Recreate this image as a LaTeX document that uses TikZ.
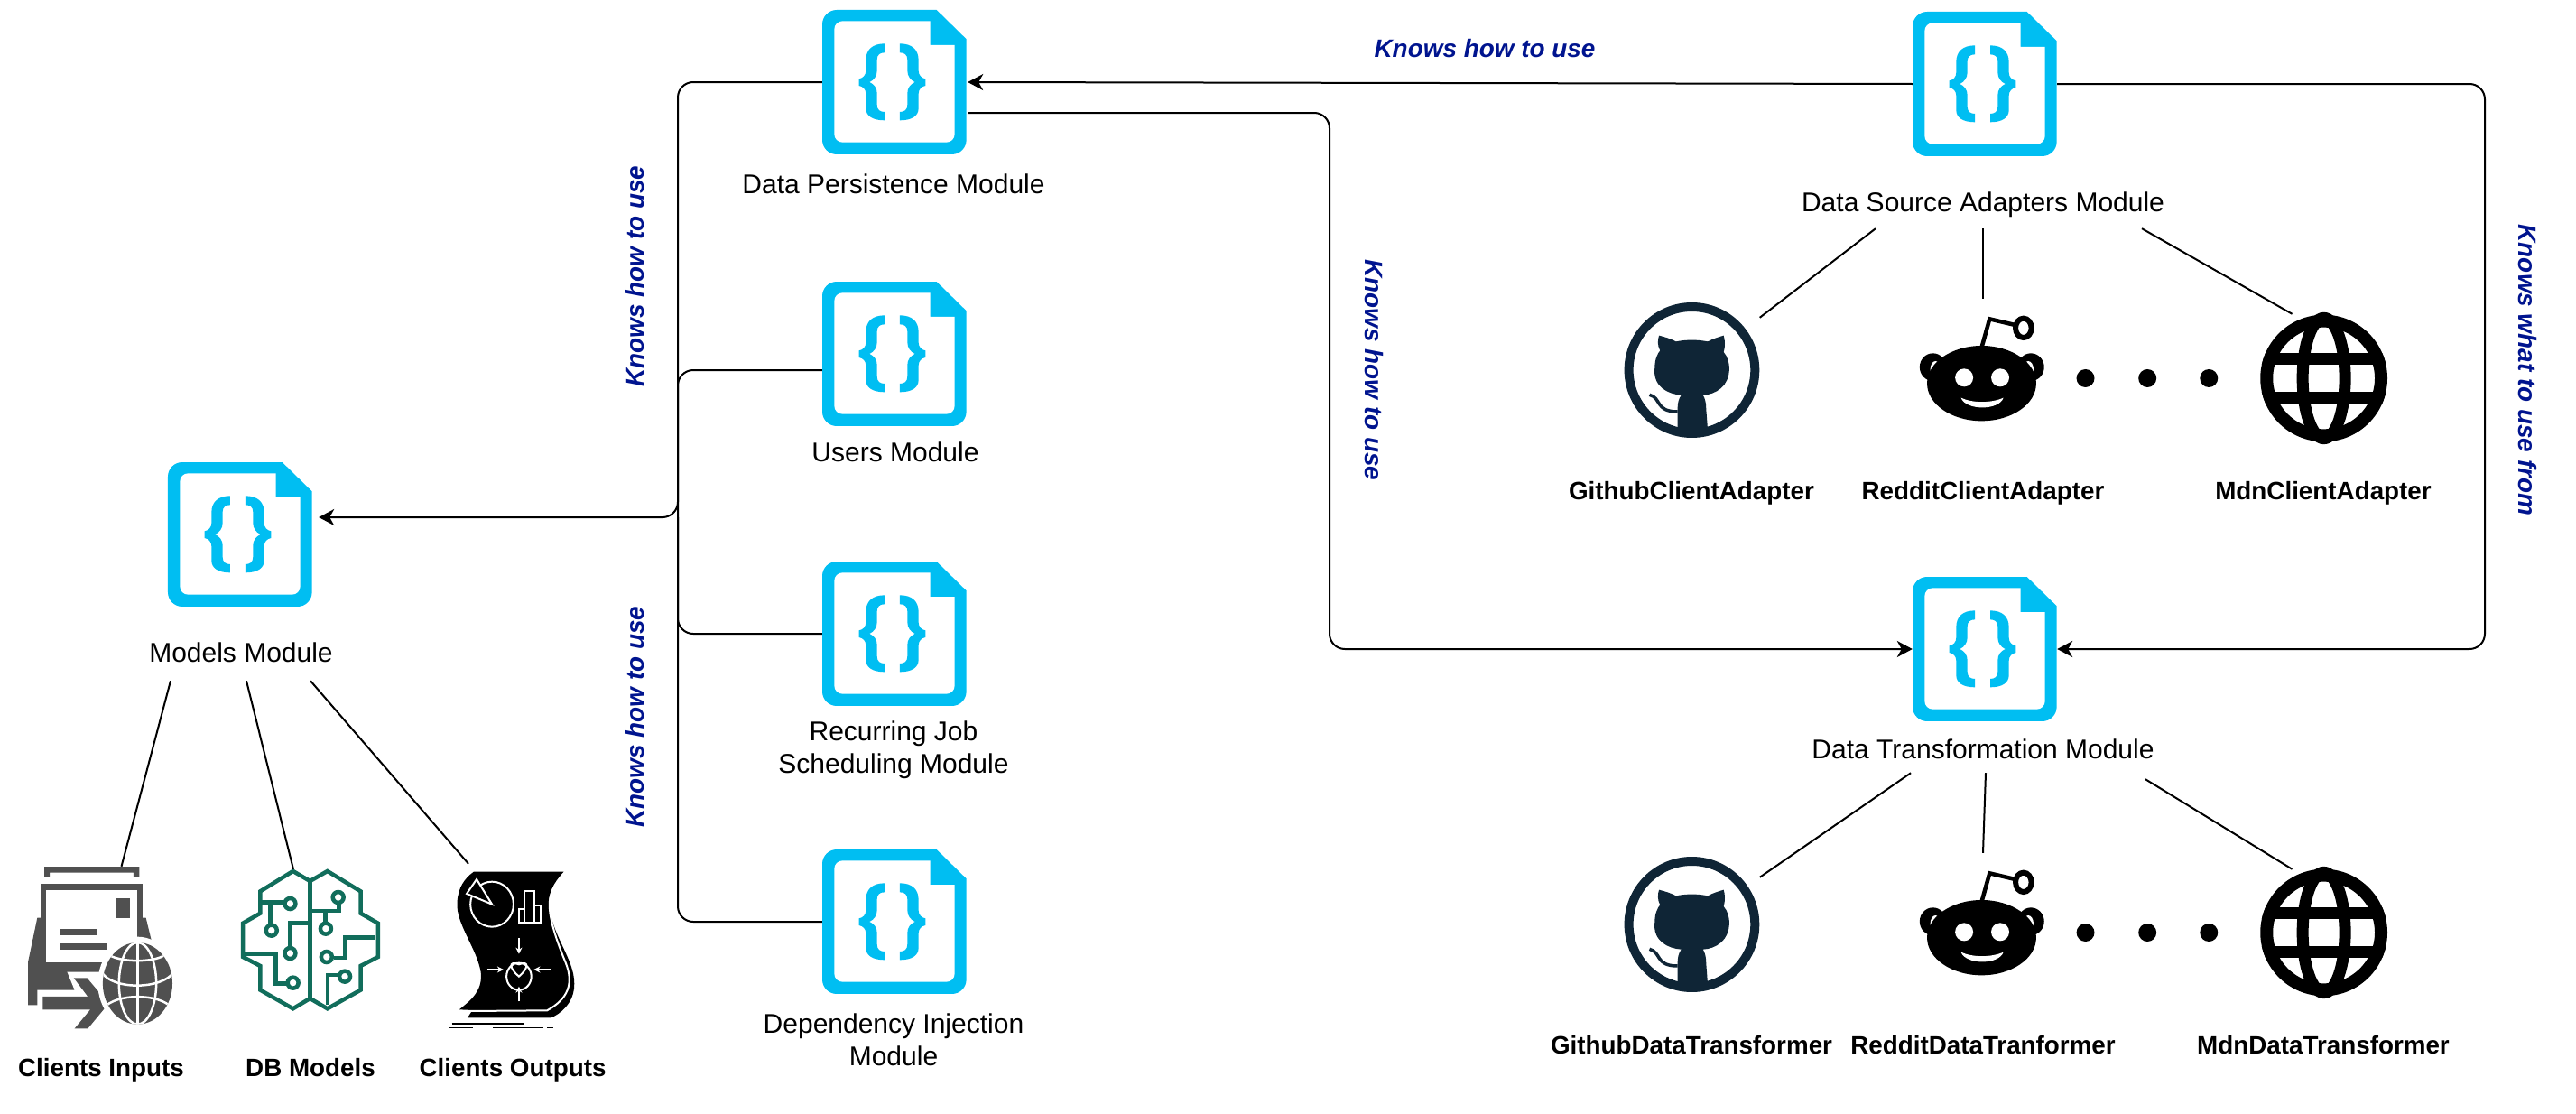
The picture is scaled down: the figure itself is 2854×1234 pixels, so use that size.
\documentclass[tikz,border=0pt]{standalone}
\usepackage{fontspec}
\setmainfont{Liberation Sans}
\usetikzlibrary{arrows.meta,calc}
\definecolor{doccyan}{HTML}{00BEF2}
\definecolor{knowblue}{HTML}{00148F}
\definecolor{braingreen}{HTML}{116D5B}
\definecolor{gitnavy}{HTML}{0F2536}
\definecolor{inputgray}{HTML}{505050}
\tikzset{
  lbl/.style={inner sep=0pt,align=center,font=\fontsize{30}{36}\selectfont},
  boldlbl/.style={inner sep=0pt,anchor=base,font=\fontsize{27.8}{34}\selectfont\bfseries},
  know/.style={inner sep=0pt,text=knowblue,font=\fontsize{27.9}{34}\selectfont\bfseries\itshape},
  conn/.style={draw=black,line width=2pt},
  elbow/.style={conn,rounded corners=17pt},
  arr/.style={-{Stealth[length=17pt,width=18pt,inset=5pt]}},
  iconbox/.style={inner sep=0pt,minimum width=#1,minimum height=#1,rectangle},
  cktdot/.style={draw=braingreen,line width=4.5pt,fill=white},
}
% ---- document icon -------------------------------------------------
\newcommand{\docicon}[3]{%
  \node[iconbox=160pt] (#1) at (#2,#3) {};
  \begin{scope}[shift={(#2-111,#3-91)},x=.3333pt,y=-.3333pt]
    \fill[doccyan] (93,273) [rounded corners=16pt] -- (93,33) [sharp corners] -- (473,33) -- (572,130)
       [rounded corners=16pt] -- (572,513) -- (93,513) -- cycle;
    \fill[white] (133,273) [rounded corners=9pt] -- (133,70) [sharp corners] -- (452,70) -- (452,150) -- (533,150)
       [rounded corners=9pt] -- (533,473) -- (133,473) -- cycle;
    \fill[doccyan] (300,145) .. controls (260,145) and (238,165) .. (238,200) -- (238,235)
      .. controls (238,250) and (228,260) .. (215,262) -- (215,285)
      .. controls (228,287) and (238,297) .. (238,312) -- (238,360)
      .. controls (238,385) and (260,400) .. (300,400) -- (300,372)
      .. controls (285,372) and (275,365) .. (275,348) -- (275,310)
      .. controls (275,292) and (265,280) .. (250,273)
      .. controls (265,266) and (275,252) .. (275,235) -- (275,198)
      .. controls (275,182) and (285,175) .. (300,175) -- cycle;
    \fill[doccyan] (351,145) .. controls (391,145) and (413,165) .. (413,200) -- (413,235)
      .. controls (413,250) and (423,260) .. (436,262) -- (436,285)
      .. controls (423,287) and (413,297) .. (413,312) -- (413,360)
      .. controls (413,385) and (391,400) .. (351,400) -- (351,372)
      .. controls (366,372) and (376,365) .. (376,348) -- (376,310)
      .. controls (376,292) and (386,280) .. (401,273)
      .. controls (386,266) and (376,252) .. (376,235) -- (376,198)
      .. controls (376,182) and (366,175) .. (351,175) -- cycle;
  \end{scope}}
% ---- github / reddit / web, traced in zoom coordinates --------------
\newcommand{\ghicon}[2]{%
  \node[iconbox=150pt] (#1) at (1874.5,410+#2) {};
  \begin{scope}[shift={(1760,320+#2)},x=.5869pt,y=-.3333pt]
    \draw[gitnavy,line width=10pt] (195,270) ellipse [x radius=119,y radius=210];
    \fill[gitnavy] (133,155) .. controls (145,160) and (158,168) .. (165,175) .. controls (185,168) and (205,168) .. (225,175)
      .. controls (232,168) and (245,160) .. (255,155) .. controls (258,170) and (258,195) .. (255,210)
      .. controls (270,240) and (270,300) .. (250,330) .. controls (240,345) and (228,352) .. (216,353)
      .. controls (220,365) and (222,380) .. (222,400) -- (225,470) -- (168,470) -- (168,400)
      .. controls (168,380) and (170,365) .. (175,353) .. controls (150,350) and (120,325) .. (125,260)
      .. controls (125,235) and (130,215) .. (135,205) .. controls (130,190) and (130,170) .. (133,155) -- cycle;
    \draw[gitnavy,line width=3.5pt] (115,352) .. controls (138,362) and (125,408) .. (168,408);
  \end{scope}}
\newcommand{\rdicon}[2]{%
  \node[iconbox=110pt] (#1) at (2195,375+#2) {};
  \begin{scope}[shift={(1760,320+#2)},x=.5869pt,y=-.3333pt]
    \draw[line width=4.5pt] (742,195) -- (757,100) -- (810,122);
    \draw[line width=6pt,fill=white] (821,130) ellipse [x radius=15,y radius=32];
    \fill (650,260) ellipse [x radius=25,y radius=46];
    \fill (835,260) ellipse [x radius=25,y radius=46];
    \fill[white] (655,268) ellipse [x radius=10,y radius=28];
    \fill[white] (830,268) ellipse [x radius=10,y radius=28];
    \fill (742,314) ellipse [x radius=103,y radius=125];
    \fill[white] (709,295) ellipse [x radius=17,y radius=30];
    \fill[white] (777,295) ellipse [x radius=17,y radius=30];
    \fill[white] (703,362) .. controls (725,380) and (760,380) .. (783,362)
      .. controls (775,405) and (712,405) .. (703,362) -- cycle;
  \end{scope}}
\newcommand{\webicon}[2]{%
  \node[iconbox=140pt] (#1) at (2574.5,419+#2) {};
  \begin{scope}[shift={(1760,320+#2)},x=.5869pt,y=-.3333pt]
    \draw[line width=14pt] (1388,297) ellipse [x radius=108,y radius=190];
    \draw[line width=13pt] (1388,297) ellipse [x radius=40,y radius=200];
    \begin{scope}
      \clip (1388,297) ellipse [x radius=120,y radius=212];
      \fill (1268,212) rectangle (1508,252);
      \fill (1268,342) rectangle (1508,382);
    \end{scope}
    \fill (938,297) ellipse [x radius=17,y radius=30];
    \fill (1055,297) ellipse [x radius=17,y radius=30];
    \fill (1171,297) ellipse [x radius=17,y radius=30];
  \end{scope}}
\begin{document}
\begin{tikzpicture}[x=1pt,y=-1pt]
\useasboundingbox (0,0) rectangle (2854,1234);
\fill[white] (0,0) rectangle (2854,1234);

% -------- module icons
\docicon{dp}{991}{91}
\docicon{users}{991}{392}
\docicon{recur}{991}{702}
\docicon{dep}{991}{1021}
\docicon{models}{266}{592}
\docicon{ds}{2199}{93}
\docicon{dt}{2199}{719}

% -------- labels
\node[lbl] (ldp) at (990,204) {Data Persistence Module};
\node[lbl] (lusers) at (992,501) {Users Module};
\node[lbl] (lrecur) at (990,831) {Recurring Job\\Scheduling Module};
\node[lbl] (ldep) at (990,1152) {Dependency Injection\\Module};
\node[lbl] (lmodels) at (267,723) {Models Module};
\node[lbl] (lds) at (2197,226.5) {Data Source Adapters Module};
\node[lbl] (ldt) at (2197,830) {Data Transformation Module};

\node[boldlbl] (lci) at (112,1192) {Clients Inputs};
\node[boldlbl] (ldb) at (344,1192) {DB Models};
\node[boldlbl] (lco) at (568,1192) {Clients Outputs};
\node[boldlbl] (lg1) at (1874,553) {GithubClientAdapter};
\node[boldlbl] (lr1) at (2197,553) {RedditClientAdapter};
\node[boldlbl] (lm1) at (2574,553) {MdnClientAdapter};
\node[boldlbl] (lg2) at (1874,1167) {GithubDataTransformer};
\node[boldlbl] (lr2) at (2197,1167) {RedditDataTranformer};
\node[boldlbl] (lm2) at (2574,1167) {MdnDataTransformer};

\node[know] (k1) at (1645,54) {Knows how to use};
\node[know,rotate=90] (k2) at (704,306) {Knows how to use};
\node[know,rotate=90] (k3) at (704,794) {Knows how to use};
\node[know,rotate=-90] (k4) at (1522,410) {Knows how to use};
\node[know,rotate=-90] (k5) at (2800,410) {Knows what to use from};

% -------- picture icons
\ghicon{g1}{0}
\rdicon{r1}{0}
\webicon{m1}{0}
\ghicon{g2}{614}
\rdicon{r2}{614}
\webicon{m2}{614}

% clients inputs
\node[iconbox=160pt] (ci) at (112,1063) {};
\begin{scope}[shift={(0,900)},x=.4592pt,y=-.3333pt]
  \fill[inputgray] (107,180) -- (336,180) -- (336,215) -- (322,215) -- (322,200) -- (120,200) -- (120,215) -- (107,215) -- cycle;
  \fill[inputgray] (98,350) -- (98,237) -- (344,237) -- (344,350) -- (352,350) -- (368,440) -- (280,640) -- (68,640) -- (68,495) -- (90,350) -- cycle;
  \fill[white] (112,258) -- (332,258) -- (332,498) -- (112,498) -- cycle;
  \fill[inputgray] (279,286) rectangle (314,350);
  \fill[inputgray] (143,386) rectangle (234,407);
  \fill[inputgray] (143,436) rectangle (260,457);
  \fill[white] (90,590) -- (180,590) -- (162,530) -- (240,530) -- (290,635) -- (230,735) -- (160,735) -- (90,680) -- cycle;
  \fill[inputgray] (103,612) -- (212,612) -- (178,550) -- (210,550) -- (262,635) -- (212,718) -- (180,718) -- (218,655) -- (103,655) -- cycle;
  \fill[white] (332,568) ellipse [x radius=96,y radius=155];
  \fill[inputgray] (332,568) ellipse [x radius=84,y radius=136];
  \begin{scope}
    \clip (332,568) ellipse [x radius=84,y radius=136];
    \draw[white,line width=2.5pt] (332,568) ellipse [x radius=45,y radius=136];
    \draw[white,line width=2.5pt] (332,430) -- (332,705);
    \draw[white,line width=2.5pt] (260,470) .. controls (285,500) and (380,500) .. (400,470);
    \draw[white,line width=2.5pt] (245,530) .. controls (270,590) and (390,590) .. (420,530);
    \draw[white,line width=2.5pt] (250,650) .. controls (280,600) and (385,600) .. (415,650);
  \end{scope}
\end{scope}

% db models (brain)
\node[iconbox=160pt] (db) at (344,1040) {};
\begin{scope}[shift={(0,900)},x=.4592pt,y=-.3333pt,draw=braingreen,line width=4.5pt,line join=miter]
  \draw (707,195) -- (748,228) -- (790,195) -- (870,262) -- (870,335) -- (912,368) -- (912,480) -- (870,510) -- (870,590) -- (790,652) -- (748,618) -- (707,652) -- (628,590) -- (628,510) -- (586,480) -- (586,368) -- (628,335) -- (628,262) -- cycle;
  \draw (748,228) -- (748,618);
  \draw (628,298) -- (690,298);
  \draw (652,298) -- (652,380);
  \draw (748,368) -- (700,368) -- (700,450);
  \draw (586,470) -- (665,470) -- (665,568) -- (695,568);
  \draw (748,327) -- (818,327) -- (818,295);
  \draw (785,327) -- (785,370);
  \draw (905,415) -- (832,415) -- (832,483) -- (805,483);
  \draw (790,640) -- (790,540) -- (820,540);
  \foreach \px/\py in {700/303,655/392,700/468,707/566,816/282,786/386,788/480,832/545}
    \draw[cktdot] (\px,\py) ellipse [x radius=13,y radius=18];
\end{scope}

% clients outputs
\node[iconbox=140pt] (co) at (571,1065) {};
\begin{scope}[shift={(0,900)},x=.4592pt,y=-.3333pt]
  \fill (1143,197) -- (1360,197) .. controls (1335,235) and (1320,270) .. (1325,320) .. controls (1340,430) and (1392,500) .. (1385,585)
    .. controls (1380,640) and (1350,670) .. (1330,682) -- (1128,682) -- (1140,657) -- (1108,655)
    .. controls (1140,620) and (1165,590) .. (1160,530) .. controls (1150,450) and (1100,370) .. (1103,300)
    .. controls (1105,250) and (1120,220) .. (1143,197) -- cycle;
  \draw[white,line width=2pt] (1350,262) -- (1332,266) .. controls (1315,310) and (1335,400) .. (1365,500)
     .. controls (1385,570) and (1370,620) .. (1320,658) -- (1130,660);
  \begin{scope}[draw=white,line width=2pt]
    \draw (1187,305) ellipse [x radius=52,y radius=75];
    \fill[black] (1187,305) -- (1150,222) -- (1126,270) -- cycle;
    \draw (1187,305) -- (1150,222) -- (1126,270) -- cycle;
    \draw (1252,365) rectangle (1265,320);
    \draw (1265,365) rectangle (1290,260);
    \draw (1290,365) rectangle (1305,310);
    \draw (1252,545) ellipse [x radius=30,y radius=45];
    \draw (1252,505) .. controls (1225,490) and (1230,520) .. (1252,545) .. controls (1274,520) and (1279,490) .. (1252,505) -- cycle;
    \draw[-{Stealth[length=7pt,width=7pt]},white] (1252,418) -- (1252,470);
    \draw[-{Stealth[length=7pt,width=7pt]},white] (1252,628) -- (1252,578);
    \draw[-{Stealth[length=7pt,width=7pt]},white] (1175,522) -- (1215,522);
    \draw[-{Stealth[length=7pt,width=7pt]},white] (1328,522) -- (1288,522);
  \end{scope}
  \draw[line width=1.5pt] (1090,702) -- (1262,702);
  \draw[line width=1.5pt] (1085,716) -- (1142,716);
  \draw[line width=1.5pt] (1190,716) -- (1310,716);
  \draw[line width=1.5pt] (1320,716) -- (1336,716);
\end{scope}

% -------- elbow connectors
\coordinate (bus) at (751,573);
\coordinate (pdroute) at (1473,125);
\coordinate (dsroute) at (2753,93);
\draw[elbow,arr] (dp.west) -| (bus) -- ([xshift=7pt,yshift=19pt]models.east);
\draw[elbow] ([yshift=-18pt]users.west) -| (bus);
\draw[elbow] (recur.west) -| (bus);
\draw[elbow] (dep.west) -| (bus);
\draw[conn,arr] (ds.west) -- ([xshift=1pt]dp.east);
\draw[elbow,arr] ([xshift=2pt,yshift=-34pt]dp.east) -- (pdroute) |- (dt.west);
\draw[elbow,arr] (ds.east) -- (dsroute) |- (dt.east);

% -------- plain lines
\draw[conn] ([xshift=-78pt,yshift=-20pt]lmodels.south) -- ([xshift=22.5pt,yshift=23pt]ci.north);
\draw[conn] ([xshift=6pt,yshift=-20pt]lmodels.south) -- ([xshift=-19pt,yshift=-3pt]db.north);
\draw[conn] ([xshift=77pt,yshift=-20pt]lmodels.south) -- ([xshift=-52pt,yshift=38pt]co.north);

\draw[conn] ([xshift=-119pt,yshift=-12.5pt]lds.south) -- ([yshift=-17pt]g1.north east);
\draw[conn] ([yshift=-12.5pt]lds.south) -- ([xshift=2pt,yshift=-11pt]r1.north);
\draw[conn] ([xshift=176pt,yshift=-12.5pt]lds.south) -- ([xshift=-35pt,yshift=1pt]m1.north);

\draw[conn] ([xshift=-80pt,yshift=-15pt]ldt.south) -- ([yshift=-23pt]g2.north east);
\draw[conn] ([xshift=3pt,yshift=-15pt]ldt.south) -- ([xshift=2pt,yshift=-11pt]r2.north);
\draw[conn] ([xshift=180pt,yshift=-22pt]ldt.south) -- ([xshift=-35pt]m2.north);
\end{tikzpicture}
\end{document}
